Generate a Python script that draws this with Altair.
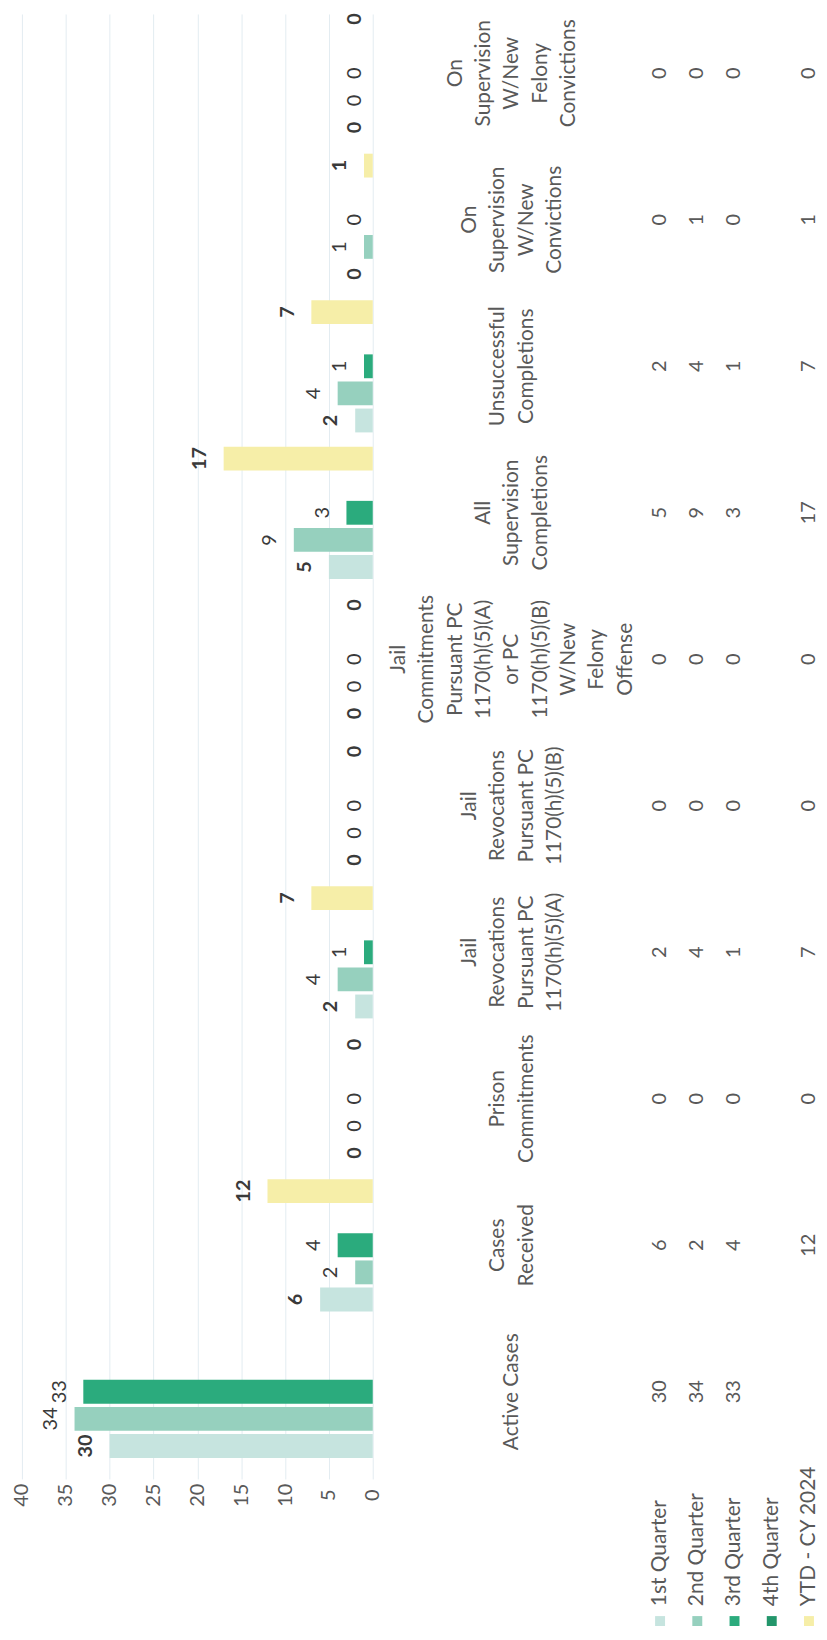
import altair as alt
import pandas as pd

# ---------------- data ----------------
categories = [
    "Active Cases",
    "Cases Received",
    "Prison Commitments",
    "Jail Revocations Pursuant PC 1170(h)(5)(A)",
    "Jail Revocations Pursuant PC 1170(h)(5)(B)",
    "Jail Commitments Pursuant PC 1170(h)(5)(A) or PC 1170(h)(5)(B) W/New Felony Offense",
    "All Supervision Completions",
    "Unsuccessful Completions",
    "On Supervision W/New Convictions",
    "On Supervision W/New Felony Convictions",
]
category_lines = [
    "Active Cases",
    "Cases\nReceived",
    "Prison\nCommitments",
    "Jail\nRevocations\nPursuant PC\n1170(h)(5)(A)",
    "Jail\nRevocations\nPursuant PC\n1170(h)(5)(B)",
    "Jail\nCommitments\nPursuant PC\n1170(h)(5)(A)\nor PC\n1170(h)(5)(B)\nW/New\nFelony\nOffense",
    "All\nSupervision\nCompletions",
    "Unsuccessful\nCompletions",
    "On\nSupervision\nW/New\nConvictions",
    "On\nSupervision\nW/New\nFelony\nConvictions",
]
series = ["1st Quarter", "2nd Quarter", "3rd Quarter", "4th Quarter", "YTD - CY 2024"]
q1 = [30, 6, 0, 2, 0, 0, 5, 2, 0, 0]
q2 = [34, 2, 0, 4, 0, 0, 9, 4, 1, 0]
q3 = [33, 4, 0, 1, 0, 0, 3, 1, 0, 0]
q4 = [None, None, None, None, None, None, None, None, None, None]
ytd = [None, 12, 0, 7, 0, 0, 17, 7, 1, 0]
colors = ["#c6e4df", "#96d0be", "#2bab7d", "#23966b", "#f6eea8"]
bold_series = ["1st Quarter", "YTD - CY 2024"]

# ---------------- tables ----------------
rows = []
for s, vals in zip(series, [q1, q2, q3, q4, ytd]):
    for c, v in zip(categories, vals):
        if v is not None:
            rows.append({"cat": c, "series": s, "value": v,
                         "bold": s in bold_series})
df = pd.DataFrame(rows)
cat_df = pd.DataFrame({"cat": categories, "label": category_lines,
                       "nlines": [t.count("\n") + 1 for t in category_lines]})
leg_df = pd.DataFrame({"series": series})

FONT = "Lato"
H = 1460
LH = 28.5
NO_STROKE = alt.ViewBackground(stroke=None, strokeWidth=0)
cat_top_down = list(reversed(categories))
ser_top_down = list(reversed(series))

# the scanned original is cropped slightly at the top: let the first band start above the frame
y_scale = alt.Scale(domain=cat_top_down, paddingInner=0.09, paddingOuter=0.045, range=[-14, H])
color_scale = alt.Scale(domain=series, range=colors)

y_enc = alt.Y("cat:N", scale=y_scale, axis=None)
yoff = alt.YOffset("series:N", scale=alt.Scale(domain=ser_top_down, paddingInner=0.12, paddingOuter=0.02))
x_scale = alt.Scale(domain=[0, 40], reverse=True, nice=False, zero=True)

base = alt.Chart(df)
bars = base.transform_filter("datum.value > 0").mark_bar().encode(
    x=alt.X("value:Q", scale=x_scale,
            axis=alt.Axis(values=list(range(0, 41, 5)), labelAngle=270, labelAlign="center",
                          labelBaseline="middle", labelPadding=30, ticks=False, tickSize=0,
                          domain=False, grid=True, gridColor="#e3ecf1", gridWidth=1,
                          labelFontSize=20, labelColor="#595959", labelFont=FONT, title=None)),
    y=y_enc,
    yOffset=yoff,
    color=alt.Color("series:N", scale=color_scale, legend=None),
)

lab_base = base.transform_calculate(
    lx="datum.value + (datum.value > 0 ? 2.7 : 2.0)"
).encode(
    x=alt.X("lx:Q", scale=x_scale),
    y=y_enc,
    yOffset=yoff,
    text=alt.Text("value:Q"),
)
lab_bold = lab_base.transform_filter("datum.bold").mark_text(
    angle=270, align="center", baseline="middle", fontSize=20, fontWeight="bold",
    font=FONT, color="#3a3a3a")
lab_norm = lab_base.transform_filter("!datum.bold").mark_text(
    angle=270, align="center", baseline="middle", fontSize=20,
    font=FONT, color="#3a3a3a")

bar_panel = alt.layer(bars, lab_bold, lab_norm).properties(width=353, height=H, view=NO_STROKE)

# category names column (one layer per line count, block centred on the column)
name_layers = []
for n in sorted(set(cat_df["nlines"])):
    name_layers.append(
        alt.Chart(cat_df).transform_filter(f"datum.nlines == {n}").mark_text(
            angle=270, align="center", baseline="middle", lineBreak="\n", lineHeight=LH,
            fontSize=21, font=FONT, color="#595959", dy=-(n - 1) / 2 * LH
        ).encode(y=y_enc, text="label:N")
    )
name_panel = alt.layer(*name_layers).properties(width=281, height=H, view=NO_STROKE)

# data table values + legend row beneath it
x_tab = alt.X("series:N", scale=alt.Scale(type="point", domain=series, padding=0.216), axis=None)
table_vals = alt.Chart(df).mark_text(
    angle=270, align="center", baseline="middle", fontSize=20, font=FONT, color="#595959"
).encode(
    x=x_tab,
    y=y_enc,
    text="value:Q",
)
leg_sq = alt.Chart(leg_df).mark_square(size=100, opacity=1).encode(
    x=x_tab,
    y=alt.value(H + 157),
    color=alt.Color("series:N", scale=color_scale, legend=None),
)
leg_tx = alt.Chart(leg_df).mark_text(
    angle=270, align="left", baseline="middle", fontSize=21, font=FONT, color="#595959"
).encode(
    x=x_tab,
    y=alt.value(H + 142),
    text="series:N",
)
table_panel = alt.layer(table_vals, leg_sq, leg_tx).properties(width=166, height=H, view=NO_STROKE)

chart = alt.hconcat(bar_panel, name_panel, table_panel, spacing=0, bounds="flush").properties(
    padding={"left": 3, "top": 0, "right": 0, "bottom": 0}
).configure_view(stroke=None, strokeWidth=0).configure(background="white", font=FONT)

chart.save("out.html", embed_options={"renderer": "svg", "actions": False})
